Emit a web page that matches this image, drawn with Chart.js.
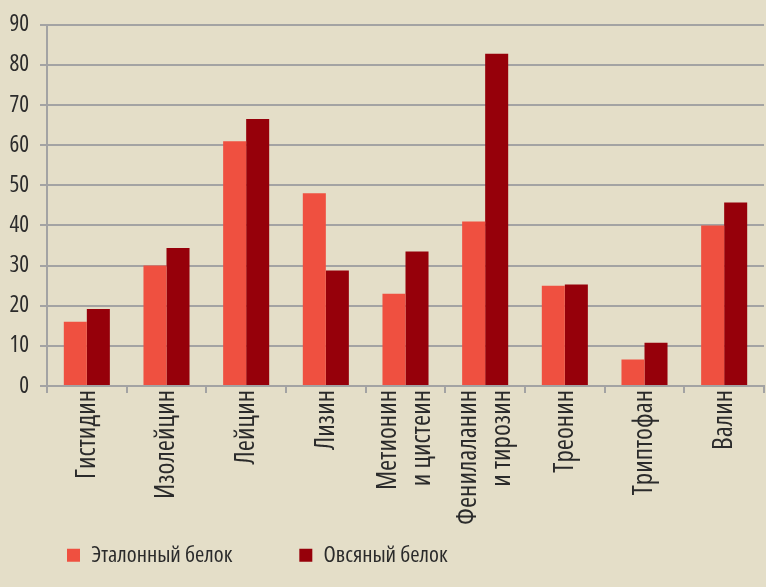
<!DOCTYPE html>
<html>
<head>
<meta charset="utf-8">
<script src="https://cdn.jsdelivr.net/npm/chart.js@4"></script>
<style>
html,body{margin:0;padding:0;background:#e4dec8;}
#wrap{width:766px;height:587px;}
</style>
</head>
<body>
<div id="wrap"><canvas id="c" width="766" height="587"></canvas></div>
<script>
const categories = ["Гистидин","Изолейцин","Лейцин","Лизин",["Метионин","и цистеин"],["Фенилаланин","и тирозин"],"Треонин","Триптофан","Валин"];
const seriesNames = ["Эталонный белок","Овсяный белок"];
const etalon = [16,30,61,48,23,41,25,6.6,40];
const oat = [19.2,34.4,66.5,28.8,33.5,82.8,25.3,10.8,45.7];
const yTicks = [0,10,20,30,40,50,60,70,80,90];

const FONT = "'Open Sans',sans-serif";
const TEXT = '#2b2b2b';
const GRID = '#a3a3a3';

new Chart(document.getElementById('c'), {
  type: 'bar',
  data: {
    labels: categories,
    datasets: [
      {label: seriesNames[0], data: etalon, backgroundColor: '#ef5040', borderWidth: 0},
      {label: seriesNames[1], data: oat, backgroundColor: '#96000a', borderWidth: 0}
    ]
  },
  plugins: [{
    id: 'tweaks',
    afterLayout(chart) { const l = chart.legend; l.top = 477; l.bottom = 620; },
    beforeDraw(chart) {
      const items = chart.scales.x.getLabelItems();
      if (!items._centered) {
        items.forEach(it => {
          if (Array.isArray(it.label)) it.options.translation[0] -= (it.label.length - 1) * it.font.lineHeight / 2;
        });
        items._centered = true;
      }
    }
  }],
  options: {
    responsive: false,
    devicePixelRatio: 1,
    animation: false,
    categoryPercentage: 0.578,
    barPercentage: 1,
    layout: {padding: {top: 20, right: 2, left: 0, bottom: 0}},
    plugins: {
      tooltip: {enabled: false},
      legend: {
        position: 'bottom',
        align: 'start',
        maxHeight: 47,
        labels: {
          boxWidth: 13, boxHeight: 13, padding: 67,
          color: TEXT,
          font: {family: FONT, size: 22.5, weight: 'condensed'}
        }
      }
    },
    scales: {
      x: {
        grid: {display: true, drawOnChartArea: false, drawTicks: true, tickLength: 7, color: GRID, lineWidth: 2},
        border: {display: true, color: GRID, width: 2},
        ticks: {
          color: TEXT, minRotation: 90, maxRotation: 90, autoSkip: false, padding: -3,
          font: {family: FONT, size: 27, lineHeight: 1.25, weight: 'semi-condensed'}
        },
        afterFit: (s) => { s.height = 154; }
      },
      y: {
        min: 0, max: 90,
        afterBuildTicks: (s) => { s.ticks = yTicks.map(v => ({value: v})); },
        grid: {color: GRID, lineWidth: 2, tickLength: 7, drawTicks: true},
        border: {display: true, color: GRID, width: 2},
        ticks: {color: TEXT, padding: 11, font: {family: FONT, size: 23, weight: 'condensed'}},
        afterFit: (s) => { s.width = 47; }
      }
    }
  }
});
</script>
</body>
</html>
